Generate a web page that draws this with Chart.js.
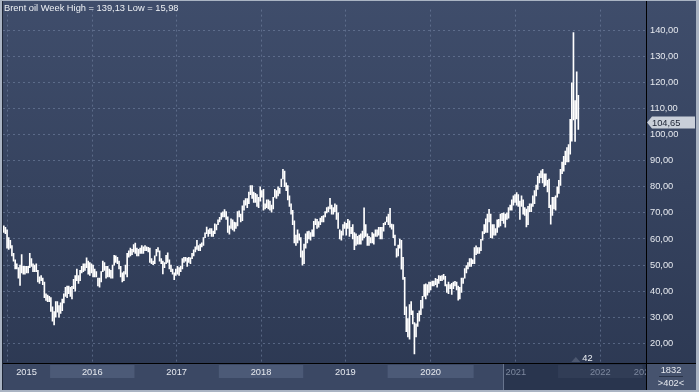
<!DOCTYPE html>
<html>
<head>
<meta charset="utf-8">
<script src="https://cdn.jsdelivr.net/npm/chart.js@4.4.1/dist/chart.umd.min.js"></script>
<style>
html,body{margin:0;padding:0;background:#aab4c3;}
</style>
</head>
<body>
<canvas id="c" width="699" height="392"></canvas>
<script>
// weekly Brent bars, [low, high], first week = 15 Jun 2015
const w2015 = [[62.5,65],[62,64.5],[56.5,63.5],[56,60.5],[56.5,59.5],[53.5,57.5],[51.5,54.5],[48.5,52],[48.5,50.5],[45,49],[42.2,50],[47,54],[46.5,49.5],[46.5,49.5],[47,49.5],[47,49.5],[49,54.5],[49.5,52.5],[47.5,50.5],[47.5,50],[47.5,50.5],[43.5,48],[43,45.5],[44,46],[42.5,45],[37.5,43.5],[36.5,39],[36,38.5],[36,38]];
const w2016 = [[32.2,37.5],[28.5,34],[27.1,32.2],[30,36],[32,36],[30,34.5],[31.5,35.5],[32.5,37],[35.5,39],[38,41.5],[37.5,42],[39,42],[38,41.5],[37,41.9],[41,44.5],[40,46],[44,48.5],[43,46],[44,48],[47,49.5],[47.5,50.5],[48,50.5],[49,52.8],[46.5,51.5],[46,51],[47,50.5],[45.5,50],[45.5,48.5],[45.5,47.5],[42,45],[41.5,45],[43.5,47.5],[47.5,51.5],[48,51],[45,49.5],[45.5,49.5],[45.5,48.5],[45,48],[45,50],[50,53.7],[51,53.5],[50.5,53],[48.5,51.5],[45.5,49.5],[43.5,47],[44,47.5],[46.5,50],[45.5,54.5],[53,55.5],[53.5,56.5],[54,56],[55,57.9]];
const w2017 = [[54.5,58.4],[53.5,56.5],[53.5,56],[54.5,56.5],[54.5,57.5],[54.5,57],[55.5,57.5],[55.5,57],[55,56.8],[51,56.5],[50.5,52.5],[50.2,51.5],[50.5,53.5],[53.5,56],[55,56.7],[51.5,55.5],[50.5,52.5],[46.6,51.5],[49,51],[50.5,53.7],[51,54.7],[48.5,52],[47.5,50],[46.5,48.5],[44.4,47],[46,48.5],[46.5,49.5],[46,49],[47.5,49.6],[48.5,52.5],[51,53],[51.5,53],[49.5,52.7],[51,53],[50.5,52.8],[52.5,54.5],[53.5,55.8],[55,57],[56,59.5],[55.5,57.5],[55.5,58],[57,58.5],[57.5,60.5],[60.5,62.4],[62,64.6],[61,63.5],[62,64],[61,64],[61,63],[62,65.8],[63.5,65.5],[65.5,67.3]];
const w2018 = [[66.5,68.3],[67.5,70],[68.5,70.4],[68.5,71.3],[67.5,70.5],[62.5,68.5],[61.8,65],[64,67.7],[63.5,67.3],[63,66.5],[64,66.3],[65,70.5],[68.5,70.8],[66.5,69.5],[67,72.7],[71,74.7],[73,75.5],[72,75.5],[73.5,78],[77,80.5],[75.5,80.5],[74,78],[74,77.5],[72.5,77],[72,76],[74.5,80],[76,78.5],[71,79],[71.5,73.5],[72,75],[71.5,75],[71,74.5],[70.3,73],[71.5,76],[76,79],[75.5,78.5],[76.5,80],[77.5,79.5],[80,83],[83,86.7],[80,86],[78.5,81.5],[75,80.5],[72.5,76.5],[69.5,73.5],[65.5,71],[58.5,67],[57.5,61.5],[58.5,63.5],[59.5,62],[53,60.5],[50,55.5]];
const w2019 = [[50.5,58],[56.5,62],[58.5,62.8],[60,63],[59.5,62.5],[61,63.5],[61,66.8],[65.5,67.7],[64,67.5],[64.5,66.7],[65.5,68],[66.5,68.7],[66.5,69],[68.5,70.5],[70,72],[70.5,72.3],[71.5,75.6],[69.5,73],[69.5,72],[70.5,73.5],[67.5,73],[64,70],[60,63.5],[59.5,63],[61.5,65.5],[64,66.5],[61.5,66],[64,67.5],[61,67],[62,64.5],[60,65.5],[55.9,62.5],[57.5,62],[58,61],[58,61.5],[58,62],[59.5,63],[60.5,71.95],[61,65.5],[57.5,62],[57.5,61],[58.5,60.5],[58.5,62.5],[58,62],[61,63.5],[61,63.5],[61.5,64.5],[60,64.5],[60,64.5],[63,66],[65.5,66.5],[66.5,68.5]];
const w2020 = [[65.5,69.5],[64.5,71.75],[63.8,65.7],[60.5,65.5],[57.5,61.5],[53,56.3],[53.5,57.7],[56.5,60],[48.4,59.5],[44.5,53],[31,45.3],[24.5,34],[22.5,29.5],[21.6,34.9],[31,36],[27.5,32.5],[15.98,28],[22.5,27.5],[26.5,31.5],[28.5,32.5],[31,36.5],[33.5,38],[38,42.5],[37,42.8],[38.5,42.5],[39.5,43.5],[40.5,43.5],[42,43.9],[42,43.9],[42.5,44.9],[41.5,44.5],[43,46],[44,45.8],[44,46],[44.5,46.5],[42,45.7],[39.5,42.5],[39,43.5],[41,42.5],[38.8,43],[41,43.5],[42,43.8],[40.5,43.5],[36.6,42],[37,41.5],[39.5,45],[43,45],[45,48.7],[47,49.8],[48.5,51],[49.5,52.5],[49.5,52.5],[50.5,52]];
const w2021 = [[50.5,56.7],[54,57.4],[54.5,56.7],[54.5,56.7],[55.5,59.9],[59.5,62.8],[62,65.5],[62.5,67.7],[62.5,69.5],[66.5,71.4],[60.5,69.5],[60.3,65.5],[61.5,65.5],[61.5,64],[62.5,67.3],[64.5,67.5],[65,69.5],[67,69.8],[66,70],[64.5,69.5],[67.5,70],[68,72],[71,73],[71,75],[73,76.5],[74,77],[73,77.8],[72.5,77],[67.5,74.5],[72.5,76.5],[69.5,75],[69,72],[64.6,71.5],[65.5,72.5],[70.5,73.5],[70.5,73.5],[72.5,76.5],[73.5,78.5],[76.5,80.7],[79,84],[81.5,85.1],[83.5,86.1],[81.5,86.7],[80,85],[80.5,85],[78,82.5],[72,83],[65.7,73],[69,76],[71.5,76],[71,76.5],[76,80]];
const w2022 = [[77.5,82.5],[80.5,86.7],[85,89.5],[86,91.7],[88.5,93.7],[89.5,95],[89.5,96.2],[92.5,105.8],[97.5,119.8],[105.6,139.13],[97.4,113],[106,124],[102,115]];

const years = ['2015','2016','2017','2018','2019','2020','2021','2022','2023'];
const yearStarts = [29, 81, 133, 185, 237, 290, 342, 394]; // week index where 2016..2023 begin
const yTicks = [20, 30, 40, 50, 60, 70, 80, 90, 100, 110, 120, 130, 140];
const lastPrice = 104.65;
const titleText = 'Brent oil Week High = 139,13 Low = 15,98';
const barCount = '1832';
const visibleCount = '>402<';
const markerText = '42';

const X_MIN = -0.5, X_MAX = 395.7;
const NAV_START = 307.6;
const FONT = 'Liberation Sans';
const FS = 9.3;
const gridColor = 'rgba(120,136,168,0.55)';

const weeks = [].concat(w2015, w2016, w2017, w2018, w2019, w2020, w2021, w2022);
const points = weeks.map((p, i) => ({x: i, y: p}));

function fmt(v) { return v.toFixed(2).replace('.', ','); }

const framePlugin = {
	id: 'frame',
	beforeDraw(chart) {
		const c = chart.ctx, a = chart.chartArea, xs = chart.scales.x;
		const W = chart.width, H = chart.height;
		c.save();
		// outer light frame
		c.fillStyle = '#aab4c3';
		c.fillRect(0, 0, W, H);
		const g = c.createLinearGradient(0, 0, 0, H);
		g.addColorStop(0, '#3f4d6b');
		g.addColorStop(1, '#2c3852');
		c.fillStyle = g;
		c.fillRect(2, 1, W - 5, H - 3);
		c.fillStyle = '#1d2536';
		c.fillRect(2, 1, 1, H - 3);
		// bottom axis strip
		c.fillStyle = '#3b4864';
		c.fillRect(3, a.bottom, a.right - 3, H - 2 - a.bottom);
		// year bands
		c.font = FS + 'px ' + FONT;
		c.textAlign = 'center';
		c.textBaseline = 'middle';
		const navX = xs.getPixelForValue(NAV_START);
		for (let i = 0; i < years.length; i++) {
			const s = i === 0 ? X_MIN : yearStarts[i - 1] - 0.5;
			const e = i < yearStarts.length ? yearStarts[i] - 0.5 : X_MAX;
			const px0 = Math.max(a.left, xs.getPixelForValue(s));
			const px1 = Math.min(a.right, xs.getPixelForValue(e));
			if (i % 2 === 1) {
				c.fillStyle = '#4c5a77';
				c.fillRect(px0, a.bottom + 2, px1 - px0, 13);
			}
		}
		// darker navigator region
		c.fillStyle = 'rgba(28,38,60,0.55)';
		c.fillRect(navX, a.bottom + 1, a.right - navX, H - 3 - a.bottom);
		c.fillStyle = '#6a7690';
		c.fillRect(navX, a.bottom + 1, 1, H - 3 - a.bottom);
		// year labels, centred in the visible part of each year
		c.save();
		c.beginPath();
		c.rect(a.left, a.bottom, a.right - a.left, H - a.bottom);
		c.clip();
		for (let i = 0; i < years.length; i++) {
			const s = i === 0 ? X_MIN : yearStarts[i - 1] - 0.5;
			const e = i < yearStarts.length ? yearStarts[i] - 0.5 : X_MAX;
			const px0 = Math.max(a.left, xs.getPixelForValue(s));
			const px1 = Math.min(a.right, xs.getPixelForValue(e));
			const cx = (px0 + px1) / 2;
			c.fillStyle = cx > navX ? '#7d889f' : '#e6e9ef';
			c.fillText(years[i], cx, a.bottom + 9);
		}
		c.restore();
		// bottom right counter box
		c.fillStyle = '#46536e';
		c.fillRect(a.right, a.bottom, W - 3 - a.right, H - 2 - a.bottom);
		c.restore();
	},
	afterDraw(chart) {
		const c = chart.ctx, a = chart.chartArea, ys = chart.scales.y, xs = chart.scales.x;
		const W = chart.width, H = chart.height;
		c.save();
		// black axis lines
		c.fillStyle = '#000';
		c.fillRect(3, Math.round(a.bottom), W - 6, 1);
		c.fillRect(Math.round(a.right), 1, 1, H - 3);
		// title
		c.font = FS + 'px ' + FONT;
		c.fillStyle = '#eef1f5';
		c.textAlign = 'left';
		c.textBaseline = 'middle';
		c.fillText(titleText, 4, 8.5);
		// last price box
		const py = ys.getPixelForValue(lastPrice);
		const bx = a.right + 1;
		c.fillStyle = '#c9cfd9';
		c.beginPath();
		c.moveTo(bx, py);
		c.lineTo(bx + 5, py - 6);
		c.lineTo(W - 4, py - 6);
		c.lineTo(W - 4, py + 6);
		c.lineTo(bx + 5, py + 6);
		c.closePath();
		c.fill();
		c.fillStyle = '#1b2233';
		c.fillText(fmt(lastPrice), bx + 5, py + 0.5);
		// marker near last bar
		const mx = xs.getPixelForValue(weeks.length - 1);
		c.fillStyle = 'rgba(150,160,180,0.3)';
		c.beginPath();
		c.moveTo(mx - 7, a.bottom - 1);
		c.lineTo(mx - 2.5, a.bottom - 6);
		c.lineTo(mx + 2, a.bottom - 1);
		c.closePath();
		c.fill();
		c.fillStyle = '#eef1f5';
		c.fillText(markerText, mx + 4, a.bottom - 5);
		// counter texts
		const cx = (a.right + W - 3) / 2;
		c.textAlign = 'center';
		c.fillStyle = '#e6e9ef';
		c.fillText(barCount, cx, a.bottom + 7);
		c.fillText(visibleCount, cx, a.bottom + 20);
		c.fillStyle = '#2a3448';
		c.fillRect(cx - 12, a.bottom + 13, 24, 1);
		c.restore();
	}
};

new Chart(document.getElementById('c').getContext('2d'), {
	type: 'bar',
	data: {
		datasets: [{
			data: points,
			backgroundColor: '#ffffff',
			borderWidth: 0,
			barThickness: 1,
			grouped: false
		}]
	},
	options: {
		responsive: false,
		animation: false,
		events: [],
		layout: {padding: {left: 3, top: 3, right: 3, bottom: 0}},
		plugins: {legend: {display: false}, tooltip: {enabled: false}},
		scales: {
			x: {
				type: 'linear',
				min: X_MIN,
				max: X_MAX,
				offset: false,
				afterBuildTicks: s => { s.ticks = yearStarts.map(v => ({value: v - 0.5})); },
				afterFit: s => { s.height = 29; },
				ticks: {display: false},
				grid: {color: gridColor, drawTicks: false},
				border: {display: false, dash: [2, 3]}
			},
			y: {
				position: 'right',
				min: 12.48,
				max: 147.9,
				afterBuildTicks: s => { s.ticks = yTicks.map(v => ({value: v})); },
				afterFit: s => { s.width = 50; },
				ticks: {
					color: '#e6e9ef',
					font: {family: FONT, size: FS},
					padding: 4,
					callback: v => fmt(v)
				},
				grid: {color: gridColor, drawTicks: false},
				border: {display: false, dash: [2, 3]}
			}
		}
	},
	plugins: [framePlugin]
});
</script>
</body>
</html>
